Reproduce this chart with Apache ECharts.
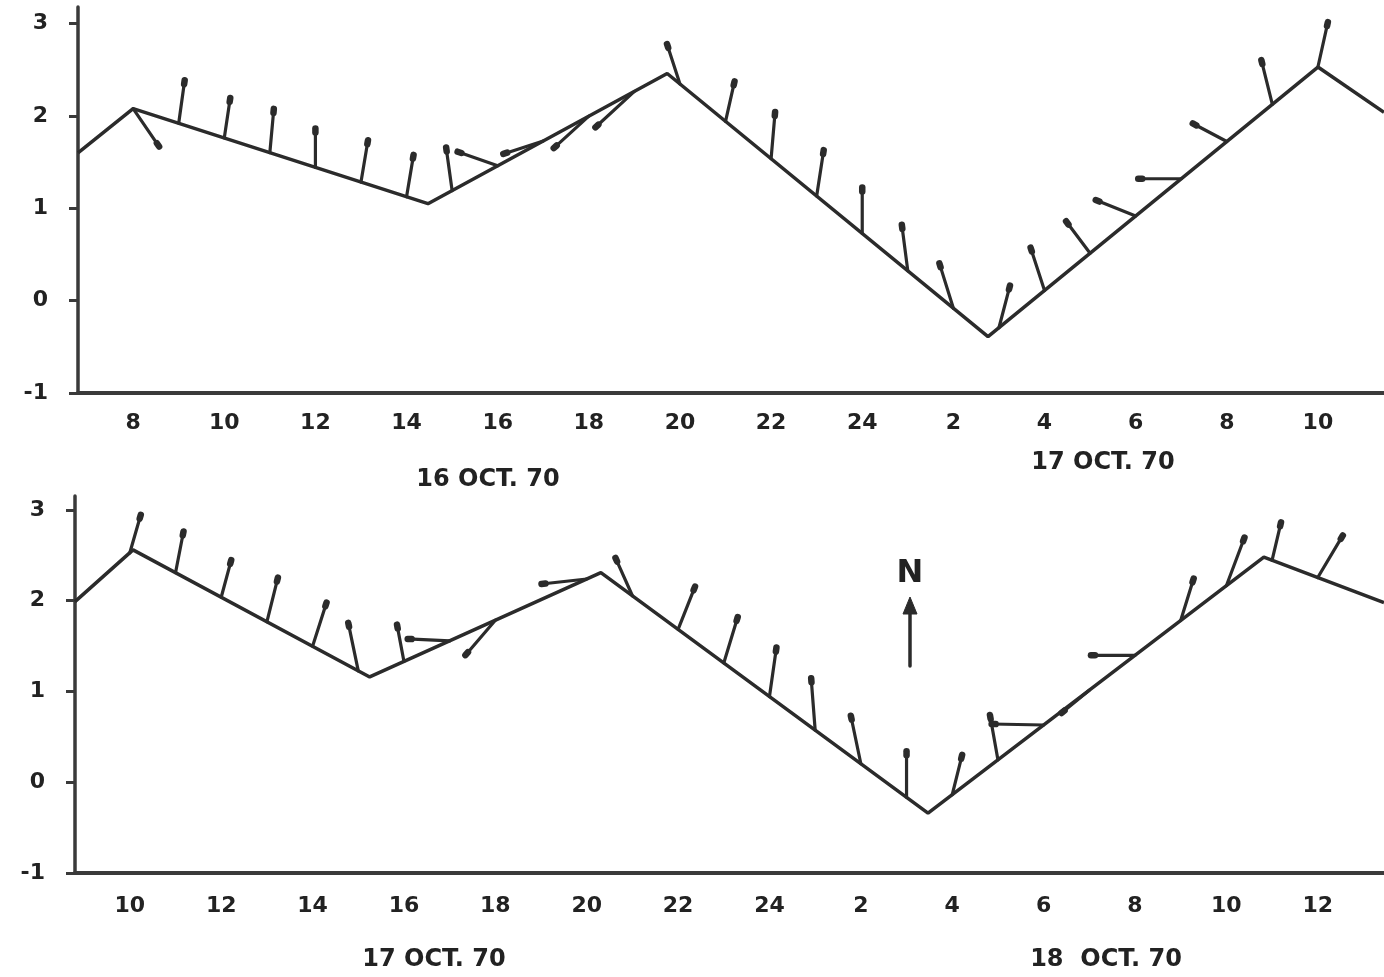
<!DOCTYPE html>
<html>
<head>
<meta charset="utf-8">
<script src="https://cdn.jsdelivr.net/npm/echarts@6/dist/echarts.min.js"></script>
<style>
html,body{margin:0;padding:0;background:#ffffff;}
#chart{width:1384px;height:977px;}
</style>
</head>
<body>
<div id="chart"></div>
<script>
// ---------- DATA ----------
// Hours are counted continuously from 0h of the first day of each panel.
// Panel 1: 16-17 Oct 1970 — tide curve (turning points)
const tideHours1 = [6.79, 8.0, 14.47, 19.72, 26.76, 34.0, 35.45];
const tideLevel1 = [1.60, 2.08, 1.05, 2.46, -0.39, 2.53, 2.04];
// Panel 1: hourly current vectors (direction ° from N, speed, relative units)
const curHours1 = [8, 9, 10, 11, 12, 13, 14, 15, 16, 17, 18, 19, 20, 21, 22, 23, 24, 25, 26, 27, 28, 29, 30, 31, 32, 33, 34];
const curDir1   = [145.6, 7.9, 8.5, 5.2, 0, 9.5, 9.5, 352.1, 289.3, 252.0, 227.6, 227.3, 342.0, 12.7, 4.9, 8.7, 0, 352.6, 342.7, 14.7, 342.0, 323.1, 291.8, 270, 297.9, 346.0, 12.5];
const curSpeed1 = [0.92, 0.87, 0.81, 0.88, 0.78, 0.85, 0.85, 0.87, 0.85, 0.84, 0.95, 1.06, 0.84, 0.82, 0.94, 0.93, 0.92, 0.93, 0.94, 0.87, 0.90, 0.80, 0.86, 0.86, 0.77, 0.91, 0.92];
const xTicks1 = [8, 10, 12, 14, 16, 18, 20, 22, 24, 26, 28, 30, 32, 34];

// Panel 2: 17-18 Oct 1970 — tide curve
const tideHours2 = [8.80, 10.07, 15.25, 20.31, 27.47, 34.82, 37.45];
const tideLevel2 = [1.99, 2.56, 1.16, 2.31, -0.34, 2.48, 1.98];
const curHours2 = [10, 11, 12, 13, 14, 15, 16, 17, 18, 20, 21, 22, 23, 24, 25, 26, 27, 28, 29, 30, 31, 32, 33, 34, 35, 36];
const curDir2   = [16.1, 11.0, 15.1, 14.0, 17.7, 348.2, 349.3, 272.7, 220.6, 263.7, 335.9, 21.6, 16.9, 8.1, 355.6, 348.2, 0, 14.0, 349.9, 271.1, 230.6, 270, 17.2, 20.6, 13.3, 30.8];
const curSpeed2 = [0.79, 0.84, 0.77, 0.91, 0.92, 0.98, 0.75, 0.84, 0.92, 0.91, 0.83, 0.92, 0.96, 0.99, 1.04, 0.98, 0.92, 0.82, 0.91, 1.04, 0.72, 0.88, 0.88, 1.03, 0.78, 0.98];
const xTicks2 = [10, 12, 14, 16, 18, 20, 22, 24, 26, 28, 30, 32, 34, 36];

const yTicks = [-1, 0, 1, 2, 3];
const dateLabels1 = ['16 OCT. 70', '17 OCT. 70'];
const dateLabels2 = ['17 OCT. 70', '18  OCT. 70'];

// ---------- HELPERS ----------
const INK = '#2b2b2b';
const AXIS_INK = '#3a3a3a';
const SPEED_PX = 50; // pixels per unit of current speed
const FONT = '"DejaVu Sans", Verdana, sans-serif';

function interp(hs, ls, h) {
  for (let i = 0; i < hs.length - 1; i++) {
    if (h >= hs[i] && h <= hs[i + 1]) {
      const t = (h - hs[i]) / (hs[i + 1] - hs[i]);
      return ls[i] + t * (ls[i + 1] - ls[i]);
    }
  }
  return ls[ls.length - 1];
}
function curveData(hs, ls) { return hs.map((h, i) => [h, ls[i]]); }
function vectorData(hours, dirs, speeds, th, tl) {
  return hours.map((h, i) => [h, interp(th, tl, h), dirs[i], speeds[i]]);
}
function hourLabel(v) {
  const h = Math.round(v);
  return String(((h - 1) % 24) + 1);
}

function renderVector(params, api) {
  const base = api.coord([api.value(0), api.value(1)]);
  const a = api.value(2) * Math.PI / 180;
  const len = api.value(3) * SPEED_PX;
  const ux = Math.sin(a), uy = -Math.cos(a);
  const tx = base[0] + ux * len, ty = base[1] + uy * len;
  return {
    type: 'group',
    children: [
      { type: 'line', shape: { x1: base[0], y1: base[1], x2: tx, y2: ty },
        style: { stroke: INK, lineWidth: 3.2, lineCap: 'round' } },
      { type: 'line', shape: { x1: tx - ux * 4, y1: ty - uy * 4, x2: tx, y2: ty },
        style: { stroke: INK, lineWidth: 6.5, lineCap: 'round' } }
    ]
  };
}

function xAxisCfg(gi, min, max, ticks, margin) {
  return {
    type: 'value', gridIndex: gi, min: min, max: max,
    axisLine: { show: true, onZero: false, lineStyle: { color: AXIS_INK, width: 4 } },
    axisTick: { show: false },
    splitLine: { show: false },
    axisLabel: {
      customValues: ticks, formatter: hourLabel, margin: margin,
      color: '#222', fontSize: 22, fontWeight: 'bold', fontFamily: FONT
    }
  };
}
function yAxisCfg(gi, max) {
  return {
    type: 'value', gridIndex: gi, min: -1, max: max,
    axisLine: { show: true, onZero: false, lineStyle: { color: AXIS_INK, width: 3.5 } },
    axisTick: { show: true, customValues: yTicks, length: 9, lineStyle: { color: AXIS_INK, width: 3 } },
    splitLine: { show: false },
    axisLabel: {
      customValues: yTicks, margin: 30,
      formatter: v => String(v),
      color: '#222', fontSize: 22, fontWeight: 'bold', fontFamily: FONT
    }
  };
}
function textEl(txt, x, y, size) {
  return { type: 'text', x: x, y: y,
    style: { text: txt, fill: '#222', font: 'bold ' + size + 'px ' + FONT, textAlign: 'center', textVerticalAlign: 'middle' } };
}

const chart = echarts.init(document.getElementById('chart'), null, { renderer: 'canvas' });
chart.setOption({
  backgroundColor: '#ffffff',
  animation: false,
  grid: [
    { left: 78, top: 7, width: 1306, height: 386 },
    { left: 75, top: 496, width: 1309, height: 377 }
  ],
  xAxis: [
    xAxisCfg(0, 6.79, 35.45, xTicks1, 19),
    xAxisCfg(1, 8.80, 37.45, xTicks2, 22)
  ],
  yAxis: [
    yAxisCfg(0, 3.18),
    yAxisCfg(1, 3.154)
  ],
  series: [
    { type: 'line', xAxisIndex: 0, yAxisIndex: 0, data: curveData(tideHours1, tideLevel1),
      showSymbol: false, lineStyle: { color: INK, width: 3.5 }, z: 3 },
    { type: 'line', xAxisIndex: 1, yAxisIndex: 1, data: curveData(tideHours2, tideLevel2),
      showSymbol: false, lineStyle: { color: INK, width: 3.5 }, z: 3 },
    { type: 'custom', xAxisIndex: 0, yAxisIndex: 0, renderItem: renderVector,
      encode: { x: 0, y: 1 }, data: vectorData(curHours1, curDir1, curSpeed1, tideHours1, tideLevel1), z: 4 },
    { type: 'custom', xAxisIndex: 1, yAxisIndex: 1, renderItem: renderVector,
      encode: { x: 0, y: 1 }, data: vectorData(curHours2, curDir2, curSpeed2, tideHours2, tideLevel2), z: 4 }
  ],
  graphic: [
    textEl(dateLabels1[0], 488, 480, 24),
    textEl(dateLabels1[1], 1103, 463, 24),
    textEl(dateLabels2[0], 434, 960, 24),
    textEl(dateLabels2[1], 1106, 960, 24),
    textEl('N', 910, 574, 32),
    { type: 'line', shape: { x1: 910, y1: 666, x2: 910, y2: 610 },
      style: { stroke: INK, lineWidth: 3.5, lineCap: 'round' } },
    { type: 'polygon', shape: { points: [[910, 597], [903, 614], [917, 614]] },
      style: { fill: INK, stroke: INK, lineWidth: 1, lineJoin: 'round' } }
  ]
});
</script>
</body>
</html>
